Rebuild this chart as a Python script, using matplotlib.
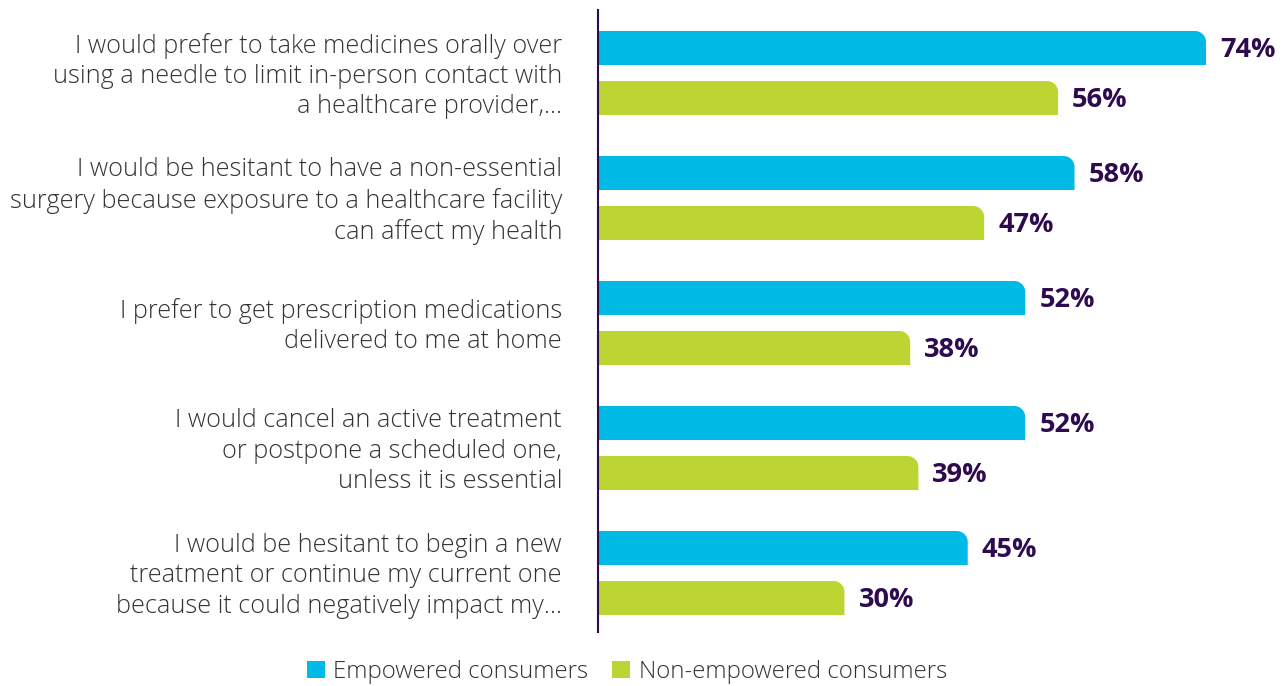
import numpy as np
import matplotlib.pyplot as plt
from matplotlib.path import Path
from matplotlib.patches import PathPatch, Patch

plt.rcParams['font.family'] = ['Open Sans', 'DejaVu Sans']

categories = [
    "I would prefer to take medicines orally over\nusing a needle to limit in-person contact with\na healthcare provider,\u2026",
    "I would be hesitant to have a non-essential\nsurgery because exposure to a healthcare facility\ncan affect my health",
    "I prefer to get prescription medications\ndelivered to me at home",
    "I would cancel an active treatment\nor postpone a scheduled one,\nunless it is essential",
    "I would be hesitant to begin a new\ntreatment or continue my current one\nbecause it could negatively impact my\u2026",
]
empowered = [74, 58, 52, 52, 45]
non_empowered = [56, 47, 38, 39, 30]
series_names = ["Empowered consumers", "Non-empowered consumers"]

blue = "#00B9E4"
green = "#BDD532"
purple = "#2E0A4F"
text_grey = "#333333"

W, H = 1285, 686
fig = plt.figure(figsize=(W / 100, H / 100), dpi=100)
ax_left, ax_top, ax_bot = 598, 10, 632
ax = fig.add_axes([ax_left / W, (H - ax_bot) / H, (W - ax_left) / W, (ax_bot - ax_top) / H])

px_per_unit_x = 8.216
px_per_group = 125.0
first_center = 73
xmax = (W - ax_left) / px_per_unit_x
ax.set_xlim(0, xmax)
ax.set_ylim((ax_bot - first_center) / px_per_group, (ax_top - first_center) / px_per_group)

bar_h = 34 / px_per_group
offset = 25 / px_per_group
radius_px = 11
rx = radius_px / px_per_unit_x
ry = radius_px / px_per_group
k = 0.5523


def rounded_bar(y, v, color):
    yt = y - bar_h / 2   # visually top (y axis inverted)
    yb = y + bar_h / 2
    verts = [(0, yb), (v, yb), (v, yt + ry),
             (v, yt + ry * (1 - k)), (v - rx * (1 - k), yt), (v - rx, yt),
             (0, yt), (0, yb)]
    codes = [Path.MOVETO, Path.LINETO, Path.LINETO,
             Path.CURVE4, Path.CURVE4, Path.CURVE4,
             Path.LINETO, Path.CLOSEPOLY]
    ax.add_patch(PathPatch(Path(verts, codes), facecolor=color, edgecolor='none'))


for i in range(len(categories)):
    for vals, col, off in [(empowered, blue, -offset), (non_empowered, green, offset)]:
        y = i + off
        rounded_bar(y, vals[i], col)
        ax.text(vals[i] + 14 / px_per_unit_x, y + 2 / px_per_group, f"{vals[i]}%", ha='left', va='center',
                fontsize=19.5, fontweight='bold', color=purple)
    ax.text(-36 / px_per_unit_x, i + 3 / px_per_group, categories[i], ha='right', va='center',
            fontsize=18.2, color=text_grey, linespacing=1.27, fontweight='light')

for s in ['top', 'right', 'bottom']:
    ax.spines[s].set_visible(False)
ax.spines['left'].set_color(purple)
ax.spines['left'].set_linewidth(1.5)
ax.set_xticks([])
ax.set_yticks([])

handles = [Patch(facecolor=blue, label=series_names[0]),
           Patch(facecolor=green, label=series_names[1])]
leg = fig.legend(handles=handles, loc='center', bbox_to_anchor=(627 / W, (H - 672) / H),
                 ncol=2, frameon=False, fontsize=17.3, handlelength=0.75, handleheight=0.75,
                 handletextpad=0.35, columnspacing=1.0)
for t in leg.get_texts():
    t.set_color(text_grey)
    t.set_fontweight('light')

fig.savefig("out.png", dpi=100)
